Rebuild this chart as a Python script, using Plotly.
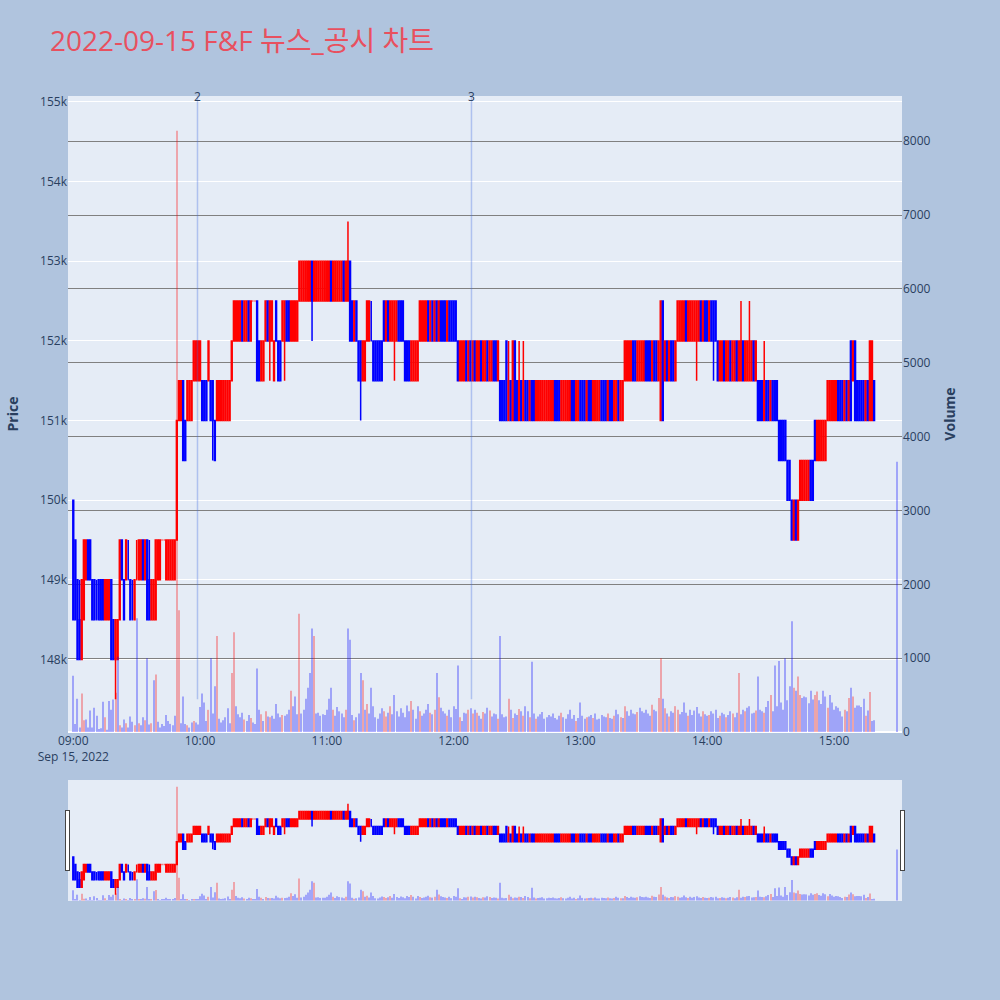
import pandas as pd
import plotly.graph_objects as go
from plotly.subplots import make_subplots

# ---- categories: 1-minute timestamps 09:00-15:19 plus the 15:30 closing auction
times = list(pd.date_range("2022-09-15 09:00", "2022-09-15 15:19", freq="min")) + [pd.Timestamp("2022-09-15 15:30")]

open_ = [
    150000,149500,149000,148500,148000,148500,149000,149500,149500,149000,
    149000,148500,149000,149000,149000,148500,148500,148500,149000,148500,
    148000,148000,148500,149500,149000,149000,149000,149000,148500,148500,
    149000,149000,149000,149500,149000,149500,149000,148500,148500,148500,
    149000,149000,149500,149500,149000,149000,149000,149000,149000,149500,
    151000,151000,151500,151000,151000,151000,151000,151500,151500,151500,
    151500,151500,151500,151500,151500,151500,151500,151000,151000,151000,
    151000,151000,151000,151000,151000,151500,152000,152000,152000,152000,
    152500,152000,152000,152500,152000,152500,152500,152500,152000,151500,
    151500,152000,152500,152000,152000,151500,152500,152000,152000,152000,
    152000,152500,152500,152000,152000,152000,152000,152500,152500,152500,
    152500,152500,152500,153000,152500,152500,152500,152500,152500,152500,
    152500,152500,153000,152500,152500,152500,152500,152500,153000,152500,
    152500,153000,152500,152000,152500,152000,152000,151500,151500,152000,
    152000,152000,152000,152000,152000,152000,152000,152500,152000,152500,
    152000,152000,152000,152000,152500,152500,152500,152000,152000,152000,
    151500,151500,151500,151500,152000,152000,152000,152000,152500,152000,
    152500,152000,152500,152000,152500,152500,152500,152000,152500,152500,
    152500,152500,152000,151500,151500,151500,152000,151500,152000,151500,
    152000,151500,151500,152000,151500,151500,152000,151500,151500,152000,
    152000,151500,151500,151500,151500,152000,151000,151500,151000,152000,
    151500,151000,151500,151000,151500,151500,151000,151500,151500,151000,
    151000,151000,151000,151000,151000,151000,151000,151000,151500,151500,
    151500,151000,151000,151000,151000,151000,151500,151500,151000,151000,
    151500,151500,151500,151000,151500,151500,151000,151000,151000,151000,
    151500,151500,151500,151000,151500,151500,151000,151000,151500,151000,
    151000,151500,151500,151500,151500,152000,152000,151500,151500,151500,
    151500,152000,152000,152000,151500,152000,152000,151500,151000,152500,
    151500,152000,151500,152000,152000,151500,152000,152000,152000,152000,
    152500,152000,152000,152000,152000,152000,152000,152500,152000,152500,
    152500,152000,152500,152500,152500,152000,151500,151500,152000,151500,
    151500,152000,151500,151500,152000,151500,151500,152000,151500,151500,
    151500,151500,152000,151500,151500,151500,151500,151000,151500,151500,
    151000,151500,151500,151500,151000,151000,151000,151000,150500,150500,
    150000,149500,150000,149500,150000,150000,150000,150000,150000,150500,
    150500,151000,150500,150500,150500,150500,150500,151000,151000,151000,
    151000,151000,151500,151500,151500,151000,151500,151000,152000,151500,
    152000,151500,151500,151500,151500,151000,151500,151000,151000,151500,
    None,
]

high = [
    150000,149500,149000,149000,149000,149500,149500,149500,149500,149000,
    149000,149000,149000,149000,149000,149000,149000,149000,149000,148500,
    148500,148500,149500,149500,149000,149500,149500,149000,149000,149000,
    149500,149500,149500,149500,149500,149500,149500,149000,149000,149500,
    149500,149500,149500,149500,149500,149500,149500,149500,149500,151000,
    151500,151500,151500,151000,151500,151500,151500,152000,152000,152000,
    152000,151500,151500,151500,152000,151500,151500,151000,151500,151500,
    151500,151500,151500,151500,151500,152000,152500,152500,152500,152500,
    152500,152500,152500,152500,152500,152500,152500,152500,152000,152000,
    152000,152500,152500,152500,152500,152000,152500,152000,152000,152500,
    152500,152500,152500,152500,152500,152500,152500,153000,153000,153000,
    153000,153000,153000,153000,153000,153000,153000,153000,153000,153000,
    153000,153000,153000,153000,153000,153000,153000,153000,153000,153000,
    153500,153000,152500,152500,152500,152000,152000,152000,152000,152500,
    152500,152500,152000,152000,152000,152000,152000,152500,152500,152500,
    152500,152500,152500,152500,152500,152500,152500,152000,152000,152000,
    152000,152000,152000,152000,152500,152500,152500,152500,152500,152500,
    152500,152500,152500,152500,152500,152500,152500,152500,152500,152500,
    152500,152500,152000,152000,152000,152000,152000,152000,152000,152000,
    152000,152000,152000,152000,152000,152000,152000,152000,152000,152000,
    152000,152000,151500,151500,151500,152000,152000,151500,152000,152000,
    151500,152000,151500,152000,151500,151500,151500,151500,151500,151500,
    151500,151500,151500,151500,151500,151500,151500,151500,151500,151500,
    151500,151500,151500,151500,151500,151500,151500,151500,151500,151500,
    151500,151500,151500,151500,151500,151500,151500,151500,151500,151500,
    151500,151500,151500,151500,151500,151500,151500,151500,151500,151500,
    151500,152000,152000,152000,152000,152000,152000,152000,152000,152000,
    152000,152000,152000,152000,152000,152000,152000,152000,152500,152500,
    152000,152000,152000,152000,152000,152000,152500,152500,152500,152500,
    152500,152500,152500,152500,152500,152500,152500,152500,152500,152500,
    152500,152500,152500,152500,152500,152000,152000,152000,152000,152000,
    152000,152000,152000,152000,152000,152000,152500,152000,152000,152000,
    152500,152000,152000,152000,151500,151500,151500,152000,151500,151500,
    151500,151500,151500,151500,151000,151000,151000,151000,150500,150500,
    150000,150000,150000,150000,150500,150500,150500,150500,150500,150500,
    150500,151000,151000,151000,151000,151000,151000,151500,151500,151500,
    151500,151500,151500,151500,151500,151500,151500,151500,152000,152000,
    152000,151500,151500,151500,151500,151500,151500,152000,152000,151500,
    None,
]

low = [
    148500,148500,148000,148000,148000,148500,149000,149000,149000,148500,
    148500,148500,148500,148500,148500,148500,148500,148500,148000,148000,
    147500,148000,148500,149000,148500,149000,149000,148500,148500,148500,
    149000,149000,149000,149000,149000,148500,148500,148500,148500,148500,
    149000,149000,149500,149500,149000,149000,149000,149000,149000,149500,
    151000,151000,150500,150500,151000,151000,151000,151500,151500,151500,
    151500,151000,151000,151000,151500,151000,150500,150500,151000,151000,
    151000,151000,151000,151000,151000,151500,152000,152000,152000,152000,
    152000,152000,152000,152000,152000,152500,152500,151500,151500,151500,
    151500,152000,152000,151500,152000,151500,152000,151500,151500,152000,
    151500,152000,152000,152000,152000,152000,152000,152500,152500,152500,
    152500,152500,152500,152000,152500,152500,152500,152500,152500,152500,
    152500,152500,152500,152500,152500,152500,152500,152500,152500,152500,
    152500,152000,152000,152000,152000,151500,151000,151500,151500,152000,
    152000,152000,151500,151500,151500,151500,151500,152000,152000,152000,
    152000,152000,151500,152000,152000,152000,152000,151500,151500,151500,
    151500,151500,151500,151500,152000,152000,152000,152000,152000,152000,
    152000,152000,152000,152000,152000,152000,152000,152000,152000,152000,
    152000,152000,151500,151500,151500,151500,151500,151500,151500,151500,
    151500,151500,151500,151500,151500,151500,151500,151500,151500,151500,
    151500,151500,151000,151000,151000,151000,151000,151000,151000,151000,
    151000,151000,151000,151000,151000,151000,151000,151000,151000,151000,
    151000,151000,151000,151000,151000,151000,151000,151000,151000,151000,
    151000,151000,151000,151000,151000,151000,151000,151000,151000,151000,
    151000,151000,151000,151000,151000,151000,151000,151000,151000,151000,
    151000,151000,151000,151000,151000,151000,151000,151000,151000,151000,
    151000,151500,151500,151500,151500,151500,151500,151500,151500,151500,
    151500,151500,151500,151500,151500,151500,151500,151500,151000,151000,
    151500,151500,151500,151500,151500,151500,152000,152000,152000,152000,
    152000,152000,152000,152000,152000,151500,152000,152000,152000,152000,
    152000,152000,152000,151500,152000,151500,151500,151500,151500,151500,
    151500,151500,151500,151500,151500,151500,151500,151500,151500,151500,
    151500,151500,151500,151500,151000,151000,151000,151000,151000,151000,
    151000,151000,151000,151000,150500,150500,150500,150500,150000,150000,
    149500,149500,149500,149500,150000,150000,150000,150000,150000,150000,
    150000,150500,150500,150500,150500,150500,150500,151000,151000,151000,
    151000,151000,151000,151000,151000,151000,151000,151000,151000,151500,
    151000,151000,151000,151000,151000,151000,151000,151000,151000,151000,
    None,
]

close = [
    148500,148500,148000,148000,149000,149500,149500,149000,149000,148500,
    148500,148500,148500,148500,148500,149000,149000,149000,148000,148000,
    148500,148500,149500,149000,148500,149500,149000,148500,148500,149000,
    149000,149500,149500,149000,149500,148500,148500,149000,149000,149500,
    149500,149500,149500,149500,149500,149500,149500,149500,149500,151000,
    151500,151500,150500,150500,151500,151500,151500,152000,152000,152000,
    152000,151000,151000,151000,152000,151000,151000,150500,151500,151500,
    151500,151500,151500,151500,151500,152000,152500,152500,152500,152500,
    152000,152500,152500,152000,152500,152500,152500,151500,151500,152000,
    152000,152500,152000,152500,152500,152000,152000,151500,151500,152500,
    152500,152000,152000,152500,152500,152500,152500,153000,153000,153000,
    153000,153000,153000,152500,153000,153000,153000,153000,153000,153000,
    153000,153000,152500,153000,153000,153000,153000,153000,152500,153000,
    153000,152000,152000,152500,152000,151500,151500,152000,152000,152500,
    152500,152000,151500,151500,151500,151500,151500,152000,152500,152000,
    152500,152500,152500,152500,152000,152000,152000,151500,151500,151500,
    152000,152000,152000,152000,152500,152500,152500,152500,152000,152500,
    152000,152500,152000,152500,152000,152000,152000,152500,152000,152000,
    152000,152000,151500,152000,152000,152000,151500,152000,151500,152000,
    151500,152000,152000,151500,152000,152000,151500,152000,152000,151500,
    151500,152000,151000,151000,151000,151000,151500,151000,152000,151000,
    151000,151500,151000,151500,151000,151000,151500,151000,151000,151500,
    151500,151500,151500,151500,151500,151500,151500,151500,151000,151000,
    151000,151500,151500,151500,151500,151500,151000,151000,151500,151500,
    151000,151000,151000,151500,151000,151000,151500,151500,151500,151500,
    151000,151000,151000,151500,151000,151000,151500,151500,151000,151500,
    151500,152000,152000,152000,152000,151500,151500,152000,152000,152000,
    152000,151500,151500,151500,152000,151500,151500,152000,152500,151000,
    152000,151500,152000,151500,151500,152000,152500,152500,152500,152500,
    152000,152500,152500,152500,152500,152500,152500,152000,152500,152000,
    152000,152500,152000,152000,152000,151500,152000,152000,151500,152000,
    152000,151500,152000,152000,151500,152000,152000,151500,152000,152000,
    152000,152000,151500,152000,151000,151000,151000,151500,151000,151000,
    151500,151000,151000,151000,150500,150500,150500,150500,150000,150000,
    149500,150000,149500,150000,150500,150500,150500,150500,150500,150000,
    150000,150500,151000,151000,151000,151000,151000,151500,151500,151500,
    151500,151500,151000,151000,151000,151500,151000,151500,151000,152000,
    151000,151000,151000,151000,151000,151500,151000,152000,152000,151000,
    None,
]

volume = [
    760,110,450,60,520,160,170,60,290,60,
    330,220,40,50,410,200,30,420,300,440,
    530,1020,90,60,170,120,60,210,140,90,
    1540,120,90,200,160,1000,100,120,700,780,
    140,60,110,80,230,150,110,90,220,8140,
    1650,120,480,110,90,60,130,150,130,100,
    340,520,400,150,300,1000,250,620,1300,180,
    130,160,200,320,120,800,1350,350,240,200,
    260,170,150,230,190,130,110,860,300,240,
    150,280,210,200,220,180,380,250,200,230,
    220,240,300,560,350,480,240,1600,250,300,
    450,600,800,1400,1300,250,260,220,240,230,
    300,450,600,300,220,340,280,250,200,300,
    1400,1250,230,160,200,250,800,700,300,380,
    250,600,350,200,180,250,320,280,210,260,
    350,240,500,280,210,320,260,200,360,280,
    420,300,180,350,280,220,250,300,380,260,
    240,300,800,470,330,280,250,220,300,200,
    350,310,900,200,150,260,250,300,320,250,
    300,260,220,180,270,250,330,290,210,250,
    240,180,1300,240,200,210,450,300,190,250,
    230,310,280,220,350,280,200,950,250,180,
    210,240,270,180,200,230,210,250,190,170,
    220,260,200,180,240,300,180,230,150,190,
    400,220,180,200,210,230,190,250,170,180,
    230,210,200,250,190,180,220,300,240,200,
    190,350,280,220,300,250,240,270,330,280,
    260,300,250,220,370,300,280,460,1000,450,
    320,250,210,280,260,350,300,240,270,400,
    260,220,300,230,290,340,250,210,280,240,
    220,230,280,250,300,190,220,260,240,200,
    230,280,250,200,260,800,240,300,280,330,
    350,250,260,290,750,300,280,260,340,420,
    500,280,900,350,960,400,300,1000,430,620,
    1500,600,560,750,500,460,480,470,390,560,
    440,500,550,430,380,560,480,330,500,400,
    300,350,330,280,210,300,280,460,600,480,
    330,360,360,340,450,220,290,540,150,160,
    3660,
]

news_times = ["2022-09-15 09:58:47", "2022-09-15 12:08:27"]
news_labels = ["2", "3"]

assert len(times) == len(open_) == len(high) == len(low) == len(close) == len(volume)

# volume colour: red when the close rose versus the previous close, blue otherwise
vol_colors = []
prev_close = None
for c in close:
    if c is not None and prev_close is not None and c > prev_close:
        vol_colors.append("red")
    else:
        vol_colors.append("blue")
    if c is not None:
        prev_close = c

fig = make_subplots(specs=[[{"secondary_y": True}]])

fig.add_trace(
    go.Candlestick(
        x=times, open=open_, high=high, low=low, close=close,
        increasing=dict(line=dict(color="red", width=1.5), fillcolor="red"),
        decreasing=dict(line=dict(color="blue", width=1.5), fillcolor="blue"),
        name="Price",
    ),
    secondary_y=False,
)
fig.add_trace(
    go.Bar(x=times, y=volume, marker=dict(color=vol_colors, line=dict(width=0)),
           opacity=0.3, name="Volume"),
    secondary_y=True,
)

price_range = [147090, 155075]
for t, lab in zip(news_times, news_labels):
    fig.add_shape(type="line", xref="x", yref="y", x0=t, x1=t,
                  y0=147500, y1=price_range[1],
                  line=dict(color="rgba(65,105,225,0.33)", width=1.5))
    fig.add_annotation(x=t, xref="x", y=1, yref="paper", text=lab,
                       showarrow=False, yanchor="middle",
                       font=dict(size=12, color="#2a3f5f"))

fig.update_layout(
    width=1000, height=1000,
    paper_bgcolor="#B0C4DE",
    plot_bgcolor="#E5ECF6",
    showlegend=False,
    margin=dict(l=68, r=98, t=96, b=100),
    title=dict(text="2022-09-15 F&F 뉴스_공시 차트", x=0.05, xanchor="left",
               y=0.959, yanchor="middle",
               font=dict(size=28, color="#E8505F",
                         family="Open Sans, Noto Sans CJK KR, sans-serif")),
    bargap=0.5,
    boxgap=0.4,
)
fig.update_xaxes(
    type="date",
    domain=[0, 1],
    range=["2022-09-15 08:57:30", "2022-09-15 15:32:12"],
    rangeslider=dict(visible=True, bgcolor="#E5ECF6", thickness=0.15),
    showgrid=False,
)
fig.update_yaxes(title=dict(text="<b>Price</b>", standoff=18), range=price_range,
                 dtick=1000, gridcolor="white", secondary_y=False)
fig.update_yaxes(title=dict(text="<b>Volume</b>"), range=[0, 8612], dtick=1000,
                 showgrid=True, gridcolor="gray", secondary_y=True)

fig.write_html("out.html", config={"displayModeBar": False},
               post_script="document.body.style.margin='0px';")
